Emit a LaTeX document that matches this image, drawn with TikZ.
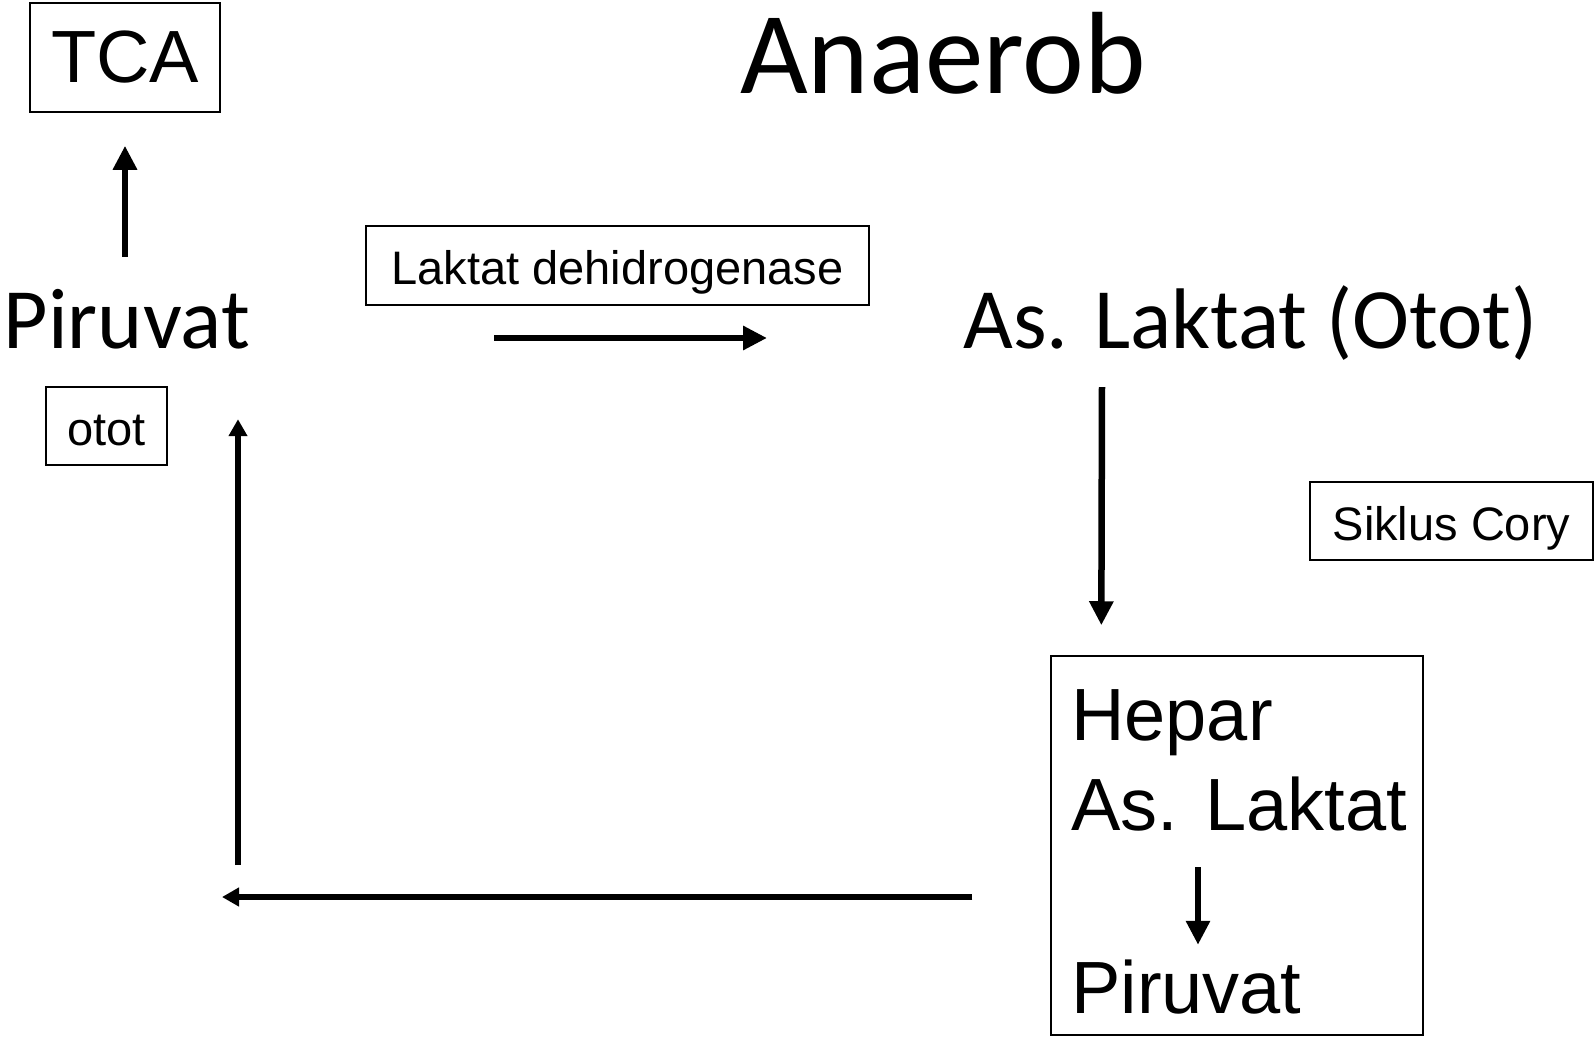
\documentclass[tikz,border=0pt]{standalone}
\usepackage{fontspec}
\setmainfont{Carlito}
\newfontfamily\arialfont{Liberation Sans}
\usetikzlibrary{arrows.meta}

\begin{document}
\begin{tikzpicture}[x=1pt,y=-1pt,
    big/.style={inner sep=0pt, anchor=base west, text height=55pt, text depth=35pt, font=\fontsize{86}{90}\selectfont},
    tag/.style={draw, line width=1.5pt, inner sep=0pt, text height=48pt, text depth=10pt, font=\arialfont\fontsize{47}{50}\selectfont},
    heptxt/.style={inner sep=0pt, anchor=base west, text height=53pt, text depth=0pt, font=\arialfont\fontsize{74}{80}\selectfont},
    arr/.style={line width=6.5pt, -{Triangle[length=24pt,width=23pt]}},
    thinarr/.style={line width=5.5pt, -{Triangle[length=17pt,width=18pt]}}]
  \fill[white] (0,0) rectangle (1595,1038);
  \useasboundingbox (0,0) rectangle (1595,1038);

  \node[draw, line width=1.5pt, minimum width=190pt, minimum height=109pt, inner sep=0pt,
        font=\arialfont\fontsize{74}{80}\selectfont] (tca) at (125,57.5) {TCA};
  \node[inner sep=0pt, anchor=base west, font=\fontsize{117}{120}\selectfont] (title) at (740,94) {Anaerob};
  \node[big] (piruvat) at (3.5,348) {Piruvat};
  \node[big] (laktat) at (963,348) {As. Laktat (Otot)};
  \node[tag, minimum width=503pt, minimum height=79pt] (ldh) at (617.5,265.5) {Laktat dehidrogenase};
  \node[tag, minimum width=121pt, minimum height=78pt] (otot) at (106.5,426) {otot};
  \node[tag, minimum width=283pt, minimum height=78pt] (cory) at (1451.5,521) {Siklus Cory};

  \node[draw, line width=1.5pt, minimum width=372pt, minimum height=379pt] (hepbox) at (1237,845.5) {};
  \node[heptxt] (hepar) at (1071,740) {Hepar};
  \node[heptxt] (aslak) at (1071,830) {As. Laktat};
  \node[heptxt] (piruvat2) at (1071,1013) {Piruvat};

  \coordinate (corner) at (222,897);
  \coordinate (upfoot) at (238,865);

  \draw[arr, shorten <=36pt, shorten >=33pt] (piruvat.north -| tca.south) -- (tca.south);
  \draw[arr, shorten <=244pt, shorten >=196pt] (piruvat.east) -- (laktat.west);
  \draw[arr, shorten <=4pt, shorten >=30pt] ([xshift=139pt]laktat.south west) -- ([xshift=51pt]hepbox.north west);
  \draw[arr, shorten <=37pt, shorten >=15pt] ([xshift=127pt]aslak.south west) -- ([xshift=127pt]piruvat2.north west);
  \draw[thinarr, shorten <=78pt] (hepbox.west |- corner) -- (corner);
  \draw[thinarr, shorten >=36pt] (upfoot) -- (upfoot |- piruvat.south);
\end{tikzpicture}
\end{document}
